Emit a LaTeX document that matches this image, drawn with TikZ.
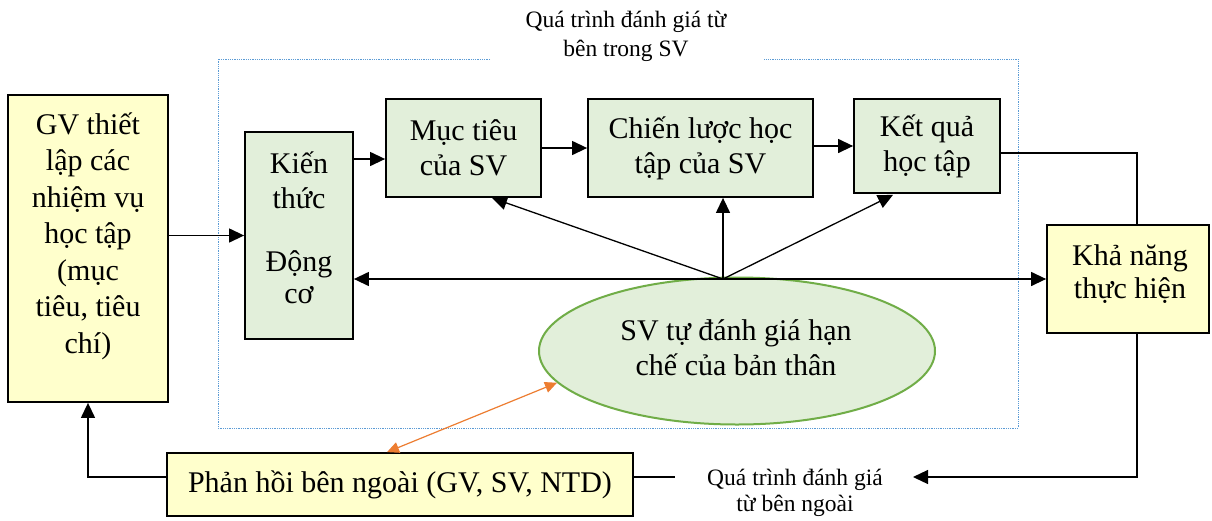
\documentclass[tikz,border=0pt]{standalone}
\usepackage{fontspec}
\setmainfont{Liberation Serif}
\usetikzlibrary{arrows.meta,shapes.geometric,calc}
\definecolor{boxgreen}{HTML}{E2EFDA}
\definecolor{boxyellow}{HTML}{FFFFCC}
\definecolor{ellline}{HTML}{70AD47}
\definecolor{frameblue}{HTML}{5B9BD5}
\definecolor{fborange}{HTML}{ED7D31}
\begin{document}
\begin{tikzpicture}[x=1pt,y=-1pt,
  boxbase/.style={draw=black, line width=1.8pt, inner sep=0pt, align=center,
    font=\fontsize{30}{35}\selectfont},
  gbox/.style={boxbase, fill=boxgreen},
  ybox/.style={boxbase, fill=boxyellow},
  txt/.style={inner sep=0pt, align=center, font=\fontsize{30}{35}\selectfont},
  smalltxt/.style={inner sep=0pt, align=center, font=\fontsize{23.5}{29}\selectfont},
  conn/.style={draw=black, line width=1.3pt},
  arr/.style={conn, -{Triangle[length=15pt,width=14pt]}},
  orarr/.style={draw=fborange, line width=1.2pt,
    {Triangle[length=12pt,width=11pt]}-{Triangle[length=12pt,width=11pt]}},
  frame/.style={draw=frameblue, line width=0.8pt, dash pattern=on 0.8pt off 1pt}]
\useasboundingbox (0,0) rectangle (1212,520);
\fill[white] (0,0) rectangle (1212,520);

% dotted frame around the internal loop, open at the top for its title
\draw[frame] (490,59) -- (218,59) -- (218,428) -- (1018,428) -- (1018,59) -- (764,59);
\node[smalltxt] (intitle) at (626,36.5) {Quá trình đánh giá từ\\bên trong SV};

% boxes
\node[ybox, minimum width=160, minimum height=307] (gv) at (88,248.5) {};
\node[txt, font=\fontsize{30}{36.5}\selectfont] (gvtext) at (88,236) {GV thiết\\lập các\\nhiệm vụ\\học tập\\(mục\\tiêu, tiêu\\chí)};

\node[gbox, minimum width=108, minimum height=207] (kien) at (299,235.5) {};
\node[txt] (kientext) at (299,180) {Kiến\\thức};
\node[txt, font=\fontsize{30}{32}\selectfont] (dongtext) at (299,277) {Động\\cơ};

\node[gbox, minimum width=155, minimum height=98] (mt) at (463.5,148) {Mục tiêu\\của SV};
\node[gbox, minimum width=225, minimum height=98] (cl) at (700.5,148) {Chiến lược học\\tập của SV};
\node[gbox, minimum width=146, minimum height=94] (kq) at (927,146) {Kết quả\\học tập};

\node[ybox, minimum width=162, minimum height=108] (kn) at (1128,279) {};
\node[txt, font=\fontsize{30}{33}\selectfont] (kntext) at (1130,274) {Khả năng\\thực hiện};

\node[ybox, minimum width=466, minimum height=63] (ph) at (400,484.5) {Phản hồi bên ngoài (GV, SV, NTD)};

\node[ellipse, draw=ellline, line width=2pt, fill=boxgreen, inner sep=0pt,
  minimum width=396, minimum height=147] (ell) at (737,351) {};
\node[txt] (elltext) at (736,347.5) {SV tự đánh giá hạn\\chế của bản thân};

\node[smalltxt, font=\fontsize{23.5}{26}\selectfont] (outtitle) at (795,493) {Quá trình đánh giá\\từ bên ngoài};

% helper points
\coordinate (hub) at (723,279);
\coordinate (k2m) at ([yshift=-11pt]mt.west);
\coordinate (mtfoot) at ([xshift=28.5pt]mt.south);
\coordinate (kqfoot) at ([xshift=-34pt,yshift=-1pt]kq.south);
\coordinate (kqout) at ([yshift=-7pt]kq.east);
\coordinate (rail) at (1137,300);
\coordinate (fbtip) at (913,477);
\coordinate (fbline) at (0,477);
\coordinate (fbend) at (675,477);

% internal flow
\draw[arr] (gv.east |- kien.west) -- (kien.west);
\draw[arr] (kien.east |- k2m) -- (k2m);
\draw[arr] (mt.east) -- (cl.west);
\draw[arr] (cl.east |- kq.west) -- (kq.west);

% influence of self-assessment
\draw[arr] (hub) -- (mtfoot);
\draw[arr] (hub) -- (hub |- cl.south);
\draw[arr] (hub) -- (kqfoot);
\draw[arr] (hub) -- (hub -| kien.east);
\draw[arr] (hub) -- (hub -| kn.west);

% external loop
\draw[conn] (kqout) -| (rail |- kn.north);
\draw[arr] (rail |- kn.south) |- (fbtip);
\draw[conn] (ph.east |- fbline) -- (fbend);
\draw[arr] (ph.west |- fbline) -| (gv.south);

% feedback exchange
\draw[orarr] ([xshift=-13pt]ph.north) -- (ell.190);
\end{tikzpicture}
\end{document}
